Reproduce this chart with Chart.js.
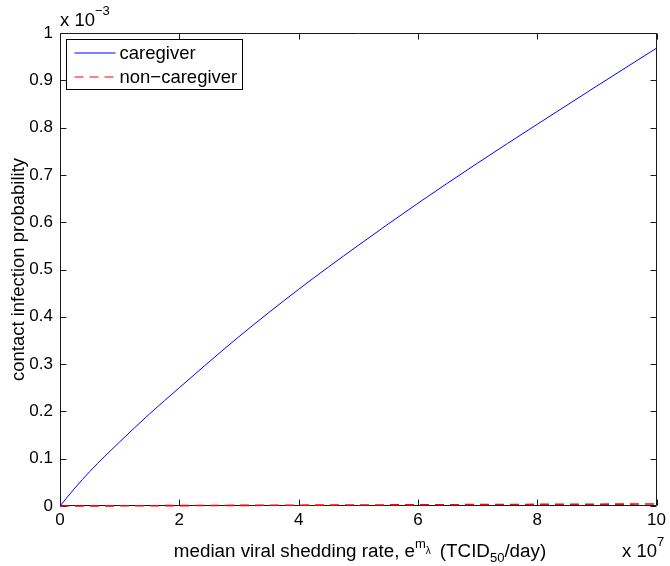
<!DOCTYPE html>
<html><head><meta charset="utf-8">
<script src="https://cdn.jsdelivr.net/npm/chart.js@4"></script>
<style>html,body{margin:0;padding:0;background:#fff}#wrap{width:670px;height:566px;position:relative}</style>
</head><body><div id="wrap"><canvas id="c" width="670" height="566"></canvas></div>
<script>
// x in units of 1e7 TCID50/day, y in units of 1e-3
const xValues = [0, 0.25, 0.5, 0.75, 1, 1.5, 2, 3, 4, 5, 6, 7, 8, 9, 10];
const caregiver = [0, 0.038, 0.073, 0.105, 0.1355, 0.1945, 0.250, 0.358, 0.458, 0.551, 0.640, 0.725, 0.807, 0.888, 0.968];
const nonCaregiver = [0, 0.0001, 0.0002, 0.0003, 0.0004, 0.0006, 0.0008, 0.0013, 0.0017, 0.0021, 0.0025, 0.0029, 0.0034, 0.0038, 0.0042];
const xTicks = [0, 2, 4, 6, 8, 10];
const yTicks = [0, 0.1, 0.2, 0.3, 0.4, 0.5, 0.6, 0.7, 0.8, 0.9, 1];
const seriesLabels = ['caregiver', 'non\u2212caregiver'];
const seriesColors = ['#0000ff', '#ff0000'];
const seriesDash = [[], [9, 6]];
const yTitle = 'contact infection probability';

const FONT = '"Liberation Sans", Arial, Helvetica, sans-serif';
const tickFont = {family: FONT, size: 17};

function drawRich(ctx, x, y, parts) {
  let cx = x;
  for (const p of parts) {
    ctx.font = p.size + 'px ' + FONT;
    ctx.fillText(p.t, cx, y + (p.dy || 0));
    cx += ctx.measureText(p.t).width + (p.after || 0);
  }
  return cx;
}
function richWidth(ctx, parts) {
  let w = 0;
  for (const p of parts) { ctx.font = p.size + 'px ' + FONT; w += ctx.measureText(p.t).width + (p.after || 0); }
  return w;
}

const decor = {
  id: 'decor',
  beforeDatasetsDraw(chart) {
    const ctx = chart.ctx;
    const a = chart.chartArea;
    const xs = chart.scales.x, ys = chart.scales.y;
    const L = Math.round(a.left) + 0.5, R = Math.round(a.right) - 0.5;
    const T = Math.round(a.top) + 0.5, B = Math.round(a.bottom) - 0.5;
    ctx.save();
    ctx.strokeStyle = '#1a1a1a';
    ctx.lineWidth = 1;
    ctx.beginPath();
    ctx.rect(L, T, R - L, B - T);
    ctx.stroke();
    const tl = 6;
    ctx.beginPath();
    for (const v of xTicks) {
      const px = Math.round(xs.getPixelForValue(v)) + 0.5;
      ctx.moveTo(px, B); ctx.lineTo(px, B - tl);
      ctx.moveTo(px, T); ctx.lineTo(px, T + tl);
    }
    for (const v of yTicks) {
      const py = Math.round(ys.getPixelForValue(v)) + 0.5;
      ctx.moveTo(L, py); ctx.lineTo(L + tl, py);
      ctx.moveTo(R, py); ctx.lineTo(R - tl, py);
    }
    ctx.stroke();
    ctx.restore();
  },
  afterDraw(chart) {
    const ctx = chart.ctx;
    const a = chart.chartArea;
    const L = Math.round(a.left) + 0.5, T = Math.round(a.top) + 0.5;
    ctx.save();
    // legend
    const lx = L + 6, ly = T + 6, lw = 176, lh = 50;
    ctx.fillStyle = '#fff';
    ctx.fillRect(lx, ly, lw, lh);
    ctx.strokeStyle = '#000';
    ctx.lineWidth = 1;
    ctx.strokeRect(lx, ly, lw, lh);
    seriesLabels.forEach((lab, i) => {
      const yy = Math.round(ly + 13 + i * 24);
      ctx.save();
      ctx.strokeStyle = seriesColors[i];
      ctx.lineWidth = 1.2;
      ctx.setLineDash(seriesDash[i]);
      ctx.beginPath();
      ctx.moveTo(lx + 8, yy); ctx.lineTo(lx + 49, yy);
      ctx.stroke();
      ctx.restore();
      ctx.fillStyle = '#000';
      ctx.font = '18.5px ' + FONT;
      ctx.textBaseline = 'middle';
      ctx.textAlign = 'left';
      ctx.fillText(lab, lx + 53, yy + 1);
    });

    // exponent labels
    ctx.fillStyle = '#000';
    ctx.textBaseline = 'alphabetic';
    ctx.textAlign = 'left';
    drawRich(ctx, 60, 26, [
      {t: 'x 10', size: 18.5},
      {t: '\u22123', size: 13, dy: -11}
    ]);
    drawRich(ctx, 622, 557, [
      {t: 'x 10', size: 18.5},
      {t: '7', size: 13, dy: -11}
    ]);

    // x title
    const parts = [
      {t: 'median viral shedding rate, e', size: 18.8},
      {t: 'm', size: 13, dy: -9},
      {t: '\u03bb', size: 10, dy: -3, after: 9},
      {t: '(TCID', size: 18.8},
      {t: '50', size: 13, dy: 5},
      {t: '/day)', size: 18.8}
    ];
    const w = richWidth(ctx, parts);
    drawRich(ctx, 360 - w / 2, 557, parts);

    // y title
    ctx.save();
    ctx.translate(24, (a.top + a.bottom) / 2);
    ctx.rotate(-Math.PI / 2);
    ctx.font = '18.5px ' + FONT;
    ctx.textAlign = 'center';
    ctx.textBaseline = 'alphabetic';
    ctx.fillText(yTitle, 0, 0);
    ctx.restore();
    ctx.restore();
  }
};

new Chart(document.getElementById('c'), {
  type: 'line',
  data: {
    datasets: [
      {
        label: seriesLabels[0],
        data: xValues.map((x, i) => ({x: x, y: caregiver[i]})),
        borderColor: seriesColors[0],
        borderWidth: 1,
        pointRadius: 0,
        cubicInterpolationMode: 'monotone',
        clip: {left: 0, top: 0, right: 2, bottom: 3},
        fill: false
      },
      {
        label: seriesLabels[1],
        data: xValues.map((x, i) => ({x: x, y: nonCaregiver[i]})),
        borderColor: seriesColors[1],
        borderWidth: 1.6,
        borderDash: seriesDash[1],
        pointRadius: 0,
        cubicInterpolationMode: 'monotone',
        clip: {left: 0, top: 0, right: 2, bottom: 3},
        fill: false
      }
    ]
  },
  options: {
    responsive: false,
    animation: false,
    devicePixelRatio: 1,
    layout: {padding: {top: 33, right: 10, left: 0, bottom: 0}},
    plugins: {legend: {display: false}, tooltip: {enabled: false}, title: {display: false}},
    scales: {
      x: {
        type: 'linear', min: 0, max: 10,
        afterBuildTicks: s => { s.ticks = xTicks.map(v => ({value: v})); },
        afterFit: s => { s.height = 60; },
        ticks: {font: tickFont, color: '#000', padding: 4, maxRotation: 0, autoSkip: false, callback: v => String(v)},
        grid: {display: false, drawTicks: false},
        border: {display: false}
      },
      y: {
        type: 'linear', min: 0, max: 1,
        afterBuildTicks: s => { s.ticks = yTicks.map(v => ({value: v})); },
        afterFit: s => { s.width = 60; },
        ticks: {font: tickFont, color: '#000', padding: 7, autoSkip: false,
          callback: v => (v === 0 ? '0' : v === 1 ? '1' : v.toFixed(1))},
        grid: {display: false, drawTicks: false},
        border: {display: false}
      }
    }
  },
  plugins: [decor]
});
</script>
</body></html>
